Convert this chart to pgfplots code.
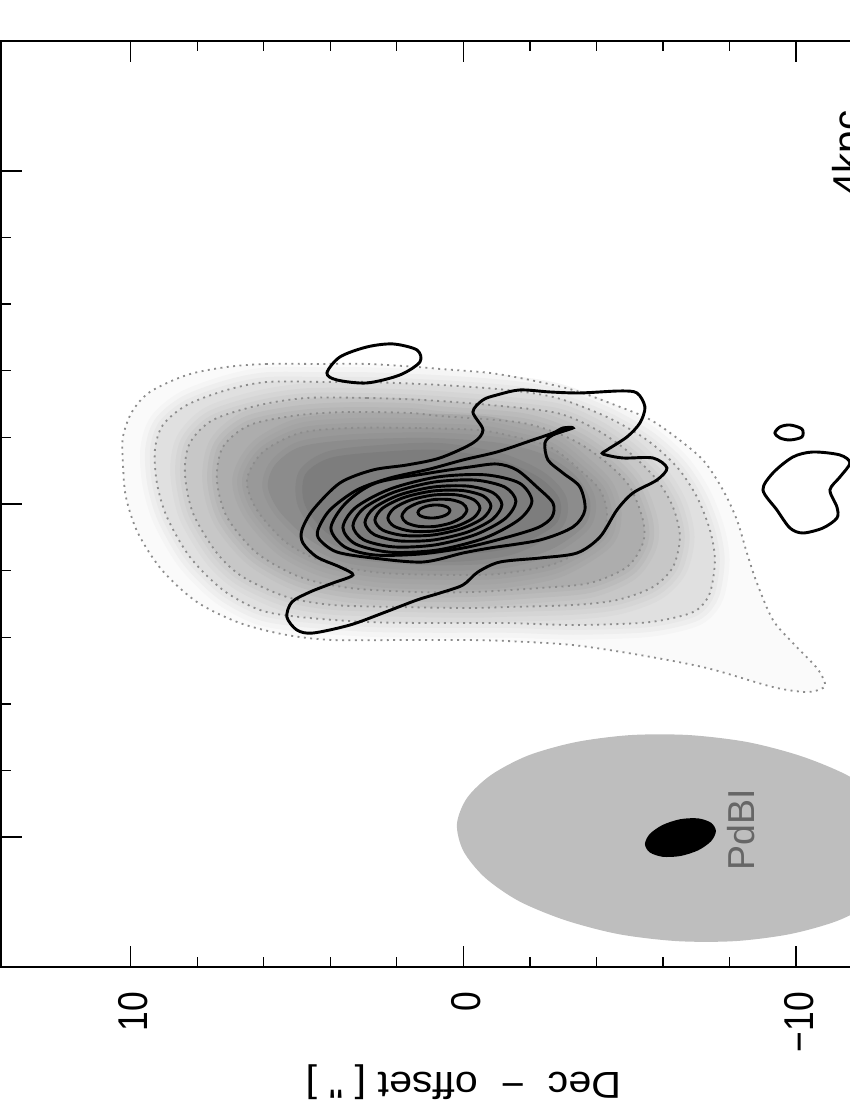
\documentclass[border=0pt]{standalone}
\usepackage{fontspec}
\setmainfont{Liberation Sans}
\newfontfamily\narrowf[FakeStretch=0.85]{Liberation Sans}
\newfontfamily\widef[FakeStretch=1.1]{Liberation Sans}
\usepackage{pgfplots}
\usepackage{pgfplotstable}
\pgfplotsset{compat=1.18}
% contour tables: positions as measured on the map (column, row), calibrated to arcsec by the axis filters
\pgfplotstableread{
a b
317 364
267 364
227 367
187 375
150 392
132 412
123 437
123 463
126 497
138 533
162 570
197 602
240 623
287 635
333 640
400 640
467 640
507 641
573 645
640 655
707 668
773 687
807 692
823 688
825 683
817 668
793 643
773 620
757 583
747 553
737 520
723 490
703 460
673 435
647 418
607 402
573 390
530 380
490 373
440 369
417 367
367 364
}\Ci
\pgfplotstableread{
a b
327 382
267 382
227 390
187 405
163 425
155 450
157 483
167 517
190 557
223 590
260 610
300 617
367 622
433 623
507 623
573 625
640 623
673 618
697 610
710 593
715 560
710 530
697 497
677 467
647 440
607 417
557 398
507 390
440 385
367 382
}\Cii
\pgfplotstableread{
a b
423 400
367 398
307 398
260 405
213 420
190 443
185 473
193 513
217 553
243 577
287 597
333 605
400 607
467 608
507 607
573 605
617 600
653 587
673 567
680 537
673 507
657 480
630 453
597 430
557 413
490 405
}\Ciii
\pgfplotstableread{
a b
410 413
350 412
300 415
250 425
223 447
217 480
227 517
257 553
300 577
350 588
417 592
473 592
540 588
590 583
627 567
643 543
643 520
630 487
607 463
573 440
523 423
440 416
}\Civ
\pgfplotstableread{
a b
477 430
417 428
350 428
300 433
263 452
247 480
257 510
287 543
327 563
383 573
467 575
507 573
557 563
600 537
607 513
600 490
580 470
550 447
507 435
}\Cv
\pgfplotstableread{
a b
350 440
300 447
275 465
268 487
280 512
310 540
350 558
420 565
500 563
550 550
585 525
590 500
575 475
545 455
500 443
430 438
}\Gi
\pgfplotstableread{
a b
380 452
330 458
305 475
305 505
330 535
380 552
450 555
510 548
555 525
560 500
540 478
500 460
440 450
}\Gii
\newcommand\band[5]{%
  \addplot[draw=black!#2,line width=21pt,smooth cycle] table {#1};
  \addplot[draw=black!#3,line width=14pt,smooth cycle] table {#1};
  \addplot[draw=black!#4,line width=7pt,smooth cycle] table {#1};
  \addplot[fill=black!#5,draw=none,smooth cycle] table {#1};
}
\begin{document}
\begin{tikzpicture}
\path[use as bounding box] (0pt,0pt) rectangle (612pt,792pt);
\begin{axis}[
  at={(0.72pt,95.76pt)}, anchor=south west, scale only axis,
  width=666.72pt, height=666.72pt,
  x dir=reverse,
  xmin=-13.94, xmax=13.9, ymin=-13.9, ymax=13.9,
  x filter/.expression={(463.4-x)/33.26},
  y filter/.expression={(504-y)/33.3},
  xtick={-10,0,10}, xticklabels={−10,0,10},
  ytick={-10,0,10}, yticklabels={},
  minor x tick num=4, minor y tick num=4,
  tick align=inside,
  major tick length=15pt, minor tick length=7.5pt,
  tick style={line width=1pt,black},
  axis line style={line width=1.5pt},
  xticklabel style={rotate=90,anchor=east,font=\narrowf\fontsize{30}{30}\selectfont,yshift=-2pt,xshift=-14.5pt},
  xlabel={Dec\ \ −\ \ offset [ " ]},
  xlabel style={rotate=180,anchor=center,at={(axis description cs:0.4994,-0.1242)},font=\widef\fontsize{27}{27}\selectfont},
  clip=true, axis on top=false,
  sol/.style={black,line width=2.1pt,smooth cycle},
  dot/.style={gray!90,line width=1.3pt,dash pattern=on 1.4pt off 3.2pt,smooth cycle},
]
% beams
\addplot[fill={rgb,1:red,0.745;green,0.745;blue,0.745},draw=none,smooth cycle] coordinates {
(909,852)(899,878)(875,901)(838,920.5)(790,934)(735,941)(677,941)(618.5,934)(565,920)(519,901)(485,877.5)(463.5,851)(457,824)(467,798)(491,775)(528,755.5)(576,742)(631,735)(689,735)(747.5,742)(801,756)(847,775)(881,798)(902.5,825)};
\addplot[fill=black,draw=none,smooth cycle] coordinates {
(716,831)(711.2,841.1)(698.3,850.2)(680.5,855.9)(662.8,856.7)(649.8,852.3)(645,844)(649.8,833.9)(662.8,824.8)(680.5,819.1)(698.3,818.3)(711.2,822.7)};
% shaded image
\addplot[fill=black!2,draw=none,smooth cycle] table {\Ci};
\band{\Cii}{4}{6.5}{9}{12}
\band{\Ciii}{14}{16.5}{19}{22}
\band{\Civ}{24}{26.5}{29}{32}
\band{\Cv}{34}{35.5}{37.5}{40}
\addplot[draw=black!42,line width=8pt,smooth cycle] table {\Gi};
\addplot[fill=black!45,draw=none,smooth cycle] table {\Gi};
\addplot[draw=black!48,line width=10pt,smooth cycle] table {\Gii};
\addplot[fill=black!51,draw=none,smooth cycle] table {\Gii};
% dotted contours
\addplot[dot] table {\Ci};
\addplot[dot] table {\Cii};
\addplot[dot] table {\Ciii};
\addplot[dot] table {\Civ};
\addplot[dot] table {\Cv};
% solid contours
\addplot[sol] coordinates {
(497,395)(520,390)(550,392)(580,393)(620,391)(637,393)(645,407)(640,423)(627,437)(607,450)(603,454)(623,458)(653,458)(667,468)(657,480)(633,493)(617,510)(600,537)(577,553)(540,558)(500,562)(478,572)(463,585)(440,593)(417,600)(383,613)(350,625)(313,633)(297,630)(287,617)(292,602)(310,592)(333,583)(353,575)(340,567)(317,557)(303,543)(302,530)(313,510)(340,483)(373,470)(407,465)(440,458)(473,443)(483,430)(473,412)(483,400)};
\addplot[sol] coordinates {
(573,428)(563,428)(553,433)(530,441)(497,452)(463,460)(430,469)(390,478)(357,490)(330,510)(318,530)(320,540)(337,552)(373,558)(423,562)(463,553)(490,548)(540,540)(573,527)(585,510)(580,487)(563,473)(548,460)(545,443)(553,435)};
\addplot[sol] coordinates {
(331,528)(346,503)(376,483)(430,473)(470,467)(497,464)(517,470)(537,487)(553,503)(552,517)(537,528)(497,540)(463,548)(420,554)(375,555)(345,547)};
\addplot[sol] coordinates {
(343,527.7)(355.7,507.5)(390.3,489)(437.5,477)(484.8,474.8)(519.3,483)(532,501)(519.3,519.5)(484.8,538)(437.5,550)(390.3,552.2)(355.7,544)};
\addplot[sol] coordinates {
(353,525.7)(363.9,508.3)(393.8,492.3)(434.5,482)(475.3,480.1)(505.1,487.2)(516,501.3)(505.1,518.7)(475.3,534.7)(434.5,545)(393.8,546.9)(363.9,539.9)};
\addplot[sol] coordinates {
(365,522.4)(374.2,508)(399.3,495)(433.5,487)(467.8,486.1)(492.8,492.6)(502,504.6)(492.8,519)(467.8,532)(433.5,540)(399.3,540.9)(374.2,534.5)};
\addplot[sol] coordinates {
(375,520)(382.8,508.1)(404,497.5)(433,491)(462,490.5)(483.2,495.9)(491,506)(483.2,518)(462,528.5)(433,535)(404,535.5)(382.8,530.1)};
\addplot[sol] coordinates {
(388,518)(394.2,508.3)(411,499.9)(434,495)(457,494.9)(473.8,499.7)(480,508)(473.8,517.7)(457,526.1)(434,531)(411,531.1)(394.2,526.3)};
\addplot[sol] coordinates {
(402,516.3)(406.4,509.1)(418.3,503)(434.5,499.5)(450.8,499.7)(462.6,503.4)(467,509.7)(462.6,516.9)(450.8,523)(434.5,526.5)(418.3,526.3)(406.4,522.6)};
\addplot[sol] coordinates {
(418,512.5)(420.1,509.1)(426,506.4)(434,505)(442,505.4)(447.9,507.4)(450,510.5)(447.9,513.9)(442,516.6)(434,518)(426,517.6)(420.1,515.6)};
\addplot[sol] coordinates {
(327,373)(340,357)(367,347)(393,344)(417,350)(420,362)(400,375)(367,383)(337,380)};
\addplot[sol] coordinates {
(775,433)(780,427)(790,425)(802,429)(802,437)(790,440)(780,438)};
\addplot[sol] coordinates {
(763,490)(773,473)(793,457)(813,452)(840,455)(850,463)(840,477)(830,490)(837,507)(837,518)(823,528)(803,533)(790,528)(777,510)};
\node[rotate=90,anchor=center,text=black!60,font=\fontsize{27}{27}\selectfont] at (axis cs:-8.34,-9.77) {PdBI};
\node[rotate=90,anchor=base west,font=\fontsize{29}{29}\selectfont,inner sep=0pt] at (axis cs:-11.98,9.25) {4kpc};
\end{axis}
\end{tikzpicture}
\end{document}
